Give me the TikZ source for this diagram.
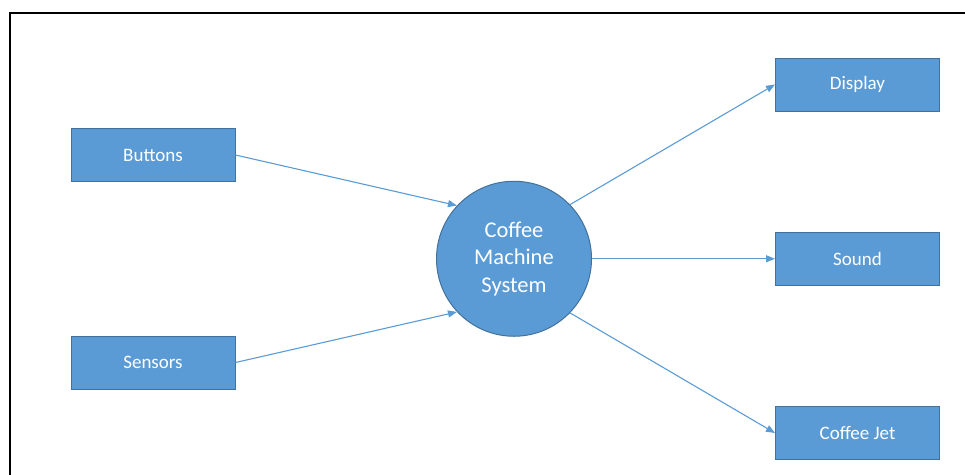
\documentclass[tikz,border=0pt]{standalone}
\usepackage{fontspec}
\setmainfont{Carlito}
\usetikzlibrary{arrows.meta}
\definecolor{boxfill}{HTML}{5B9BD5}
\definecolor{boxline}{HTML}{41719C}
\definecolor{arrowcol}{HTML}{5B9BD5}
\begin{document}
\begin{tikzpicture}[x=1pt,y=-1pt,
  blockbox/.style={draw=boxline, line width=1pt, fill=boxfill, text=white,
    minimum width=164pt, minimum height=53pt, inner sep=0pt,
    font=\fontsize{19}{23}\selectfont},
  hub/.style={circle, draw=boxline, line width=1pt, fill=boxfill, text=white,
    minimum size=155pt, inner sep=0pt, align=center,
    font=\fontsize{22.5}{27.5}\selectfont},
  flow/.style={draw=arrowcol, line width=1.1pt, -{Triangle[length=9pt,width=7pt]}}]
\useasboundingbox (0,0) rectangle (965,474);
\draw[line width=2pt, black] (10,480) -- (10,13) -- (970,13);
\node[blockbox] (buttons) at (153,155) {Buttons};
\node[blockbox] (sensors) at (153,362.5) {Sensors};
\node[hub] (cms) at (514,258.75) {Coffee\\Machine\\System};
\node[blockbox] (display) at (857.5,84.5) {Display};
\node[blockbox] (sound) at (857.5,258.75) {Sound};
\node[blockbox] (jet) at (857.5,433) {Coffee Jet};
\draw[flow] (buttons.east) -- (cms.137);
\draw[flow] (sensors.east) -- (cms.223);
\draw[flow] (cms.44) -- (display.west);
\draw[flow] (cms.east) -- (sound.west);
\draw[flow] (cms.-44) -- (jet.west);
\end{tikzpicture}
\end{document}
